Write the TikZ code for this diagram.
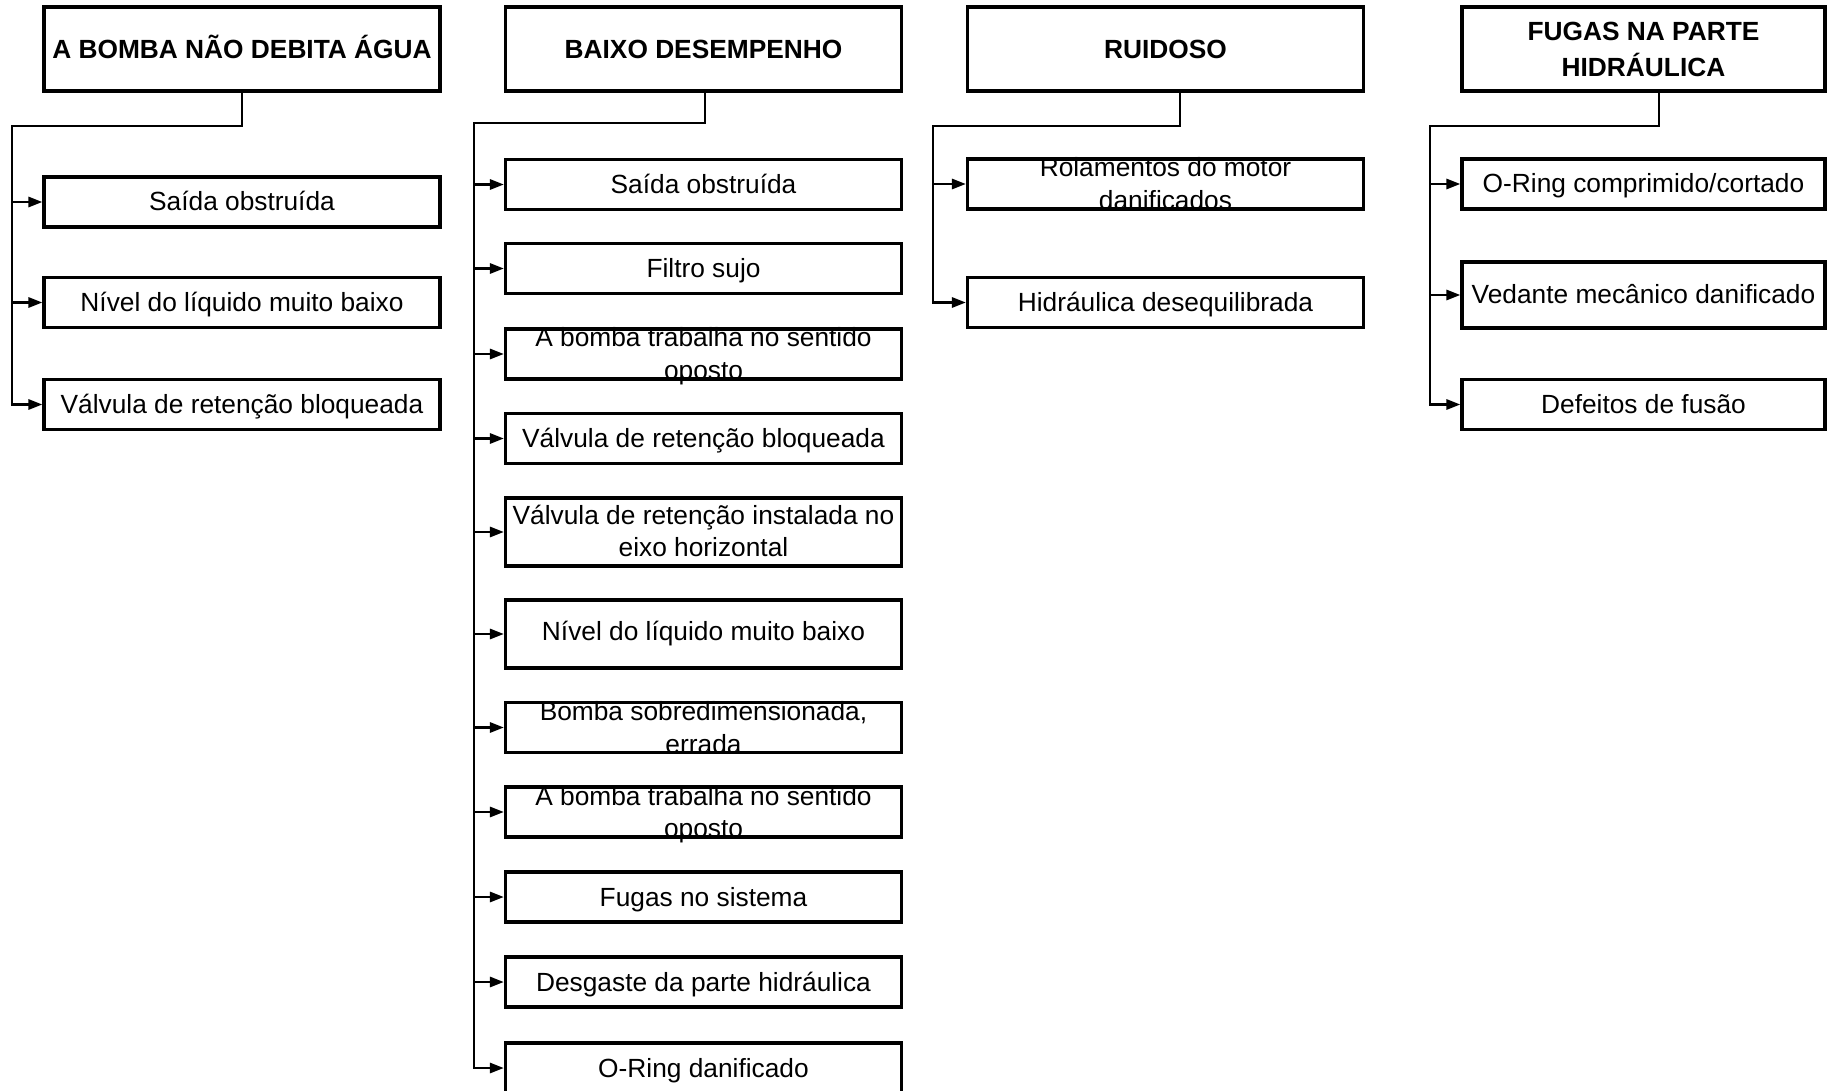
\documentclass[tikz,border=0pt]{standalone}
\usepackage{fontspec}
\setmainfont{Liberation Sans}
\usetikzlibrary{arrows.meta}
\hyphenpenalty=10000
\exhyphenpenalty=10000

\tikzset{
  head/.style={draw, line width=1.6pt, inner sep=0pt, align=flush center,
    font=\bfseries\fontsize{13.15}{18}\selectfont,
    minimum width=198pt, text width=198pt, minimum height=42pt, text height=9.4pt},
  cause/.style={draw, line width=1.6pt, inner sep=0pt, align=flush center,
    font=\fontsize{13.15}{16.25}\selectfont,
    minimum width=198pt, text width=193pt, minimum height=25pt,
    text height=11.5pt, text depth=2.5pt},
  narrow/.style={minimum width=181.5pt, text width=178pt},
  wrapped/.style={text height=9pt, text depth=16pt},
  tall/.style={minimum height=34pt, text height=13pt, text depth=21pt},
  bus/.style={line width=1.4pt, line cap=rect},
  arrow/.style={line width=1.4pt, -{Triangle[length=7pt,width=5pt]}}
}

\begin{document}
\begin{tikzpicture}[x=0.5pt, y=-0.5pt]
  \useasboundingbox (0,0) rectangle (1827,1091);

  % headers
  \node[head] (t1) at (242,49) {A BOMBA NÃO DEBITA ÁGUA};
  \node[head] (t2) at (703.5,49) {BAIXO DESEMPENHO};
  \node[head] (t3) at (1165.5,49) {RUIDOSO};
  \node[head, narrow] (t4) at (1643.5,49) {FUGAS NA PARTE HIDRÁULICA};

  % causes
  \node[cause] (c1-1) at (242,202) {Saída obstruída};
  \node[cause] (c1-2) at (242,302.5) {Nível do líquido muito baixo};
  \node[cause] (c1-3) at (242,404.5) {Válvula de retenção bloqueada};

  \node[cause] (c2-1) at (703.5,184.5) {Saída obstruída};
  \node[cause] (c2-2) at (703.5,268.5) {Filtro sujo};
  \node[cause, wrapped] (c2-3) at (703.5,354) {A bomba trabalha no sentido oposto};
  \node[cause] (c2-4) at (703.5,438.5) {Válvula de retenção bloqueada};
  \node[cause, tall] (c2-5) at (703.5,532) {Válvula de retenção instalada no eixo horizontal};
  \node[cause, minimum height=34pt, text height=11pt, text depth=4.3pt] (c2-6) at (703.5,634) {Nível do líquido muito baixo};
  \node[cause, wrapped] (c2-7) at (703.5,727.5) {Bomba sobredimensionada, errada};
  \node[cause, wrapped] (c2-8) at (703.5,812) {A bomba trabalha no sentido oposto};
  \node[cause] (c2-9) at (703.5,897) {Fugas no sistema};
  \node[cause] (c2-10) at (703.5,982) {Desgaste da parte hidráulica};
  \node[cause] (c2-11) at (703.5,1068) {O-Ring danificado};

  \node[cause, wrapped] (c3-1) at (1165.5,184) {Rolamentos do motor danificados};
  \node[cause] (c3-2) at (1165.5,302.5) {Hidráulica desequilibrada};

  \node[cause, narrow] (c4-1) at (1643.5,184) {O-Ring comprimido/cortado};
  \node[cause, narrow, minimum height=33pt] (c4-2) at (1643.5,295) {Vedante mecânico danificado};
  \node[cause, narrow] (c4-3) at (1643.5,404.5) {Defeitos de fusão};

  % bus knees and corners
  \coordinate (k1) at (242,126);  \coordinate (b1) at (12,126);
  \coordinate (k2) at (705,123);  \coordinate (b2) at (474,123);
  \coordinate (k3) at (1180,126); \coordinate (b3) at (933,126);
  \coordinate (k4) at (1659,126); \coordinate (b4) at (1430,126);

  \draw[bus] (k1 |- t1.south) -- (k1) -- (b1) -- (b1 |- c1-3.west);
  \draw[bus] (k2 |- t2.south) -- (k2) -- (b2) -- (b2 |- c2-11.west);
  \draw[bus] (k3 |- t3.south) -- (k3) -- (b3) -- (b3 |- c3-2.west);
  \draw[bus] (k4 |- t4.south) -- (k4) -- (b4) -- (b4 |- c4-3.west);

  \path[arrow]
    (c1-1.west -| b1) edge (c1-1)
    (c1-2.west -| b1) edge (c1-2)
    (c1-3.west -| b1) edge (c1-3)
    (c2-1.west -| b2) edge (c2-1)
    (c2-2.west -| b2) edge (c2-2)
    (c2-3.west -| b2) edge (c2-3)
    (c2-4.west -| b2) edge (c2-4)
    (c2-5.west -| b2) edge (c2-5)
    (c2-6.west -| b2) edge (c2-6)
    (c2-7.west -| b2) edge (c2-7)
    (c2-8.west -| b2) edge (c2-8)
    (c2-9.west -| b2) edge (c2-9)
    (c2-10.west -| b2) edge (c2-10)
    (c2-11.west -| b2) edge (c2-11)
    (c3-1.west -| b3) edge (c3-1)
    (c3-2.west -| b3) edge (c3-2)
    (c4-1.west -| b4) edge (c4-1)
    (c4-2.west -| b4) edge (c4-2)
    (c4-3.west -| b4) edge (c4-3);
\end{tikzpicture}
\end{document}
